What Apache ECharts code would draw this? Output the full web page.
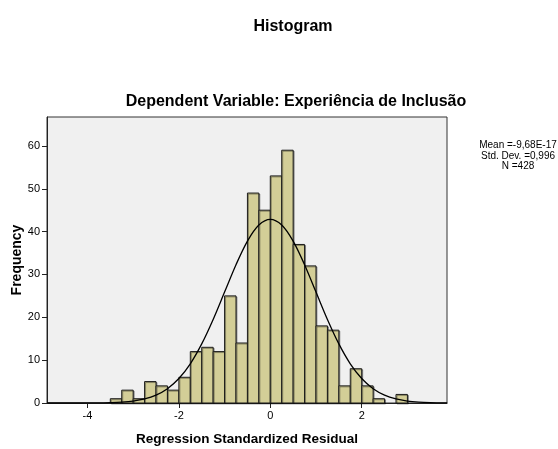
<!DOCTYPE html>
<html>
<head>
<meta charset="utf-8">
<script src="https://cdn.jsdelivr.net/npm/echarts@6/dist/echarts.min.js"></script>
<style>
  html, body { margin: 0; padding: 0; background: #fff; }
  #chart { width: 558px; height: 449px; }
</style>
</head>
<body>
<div id="chart"></div>
<script>
// bins are 0.25 wide, given by their left edge
var binStart = [-3.5, -3.25, -3, -2.75, -2.5, -2.25, -2, -1.75, -1.5, -1.25,
                -1, -0.75, -0.5, -0.25, 0, 0.25, 0.5, 0.75, 1, 1.25,
                1.5, 1.75, 2, 2.25, 2.5, 2.75];
var counts = [1, 3, 1, 5, 4, 3, 6, 12, 13, 12,
              25, 14, 49, 45, 53, 59, 37, 32, 18, 17,
              4, 8, 4, 1, 0, 2];
var binWidth = 0.25;

// normal curve
var curveX = [-4.88, -4.5, -4.25, -4, -3.75, -3.5, -3.25, -3, -2.75, -2.5, -2.25, -2,
              -1.75, -1.5, -1.25, -1, -0.75, -0.5, -0.25, 0, 0.25, 0.5, 0.75, 1,
              1.25, 1.5, 1.75, 2, 2.25, 2.5, 2.75, 3, 3.25, 3.5, 3.75, 3.87];
var curveY = [0, 0, 0, 0.01, 0.04, 0.09, 0.21, 0.46, 0.95, 1.84, 3.34, 5.71,
              9.15, 13.79, 19.5, 25.89, 32.28, 37.78, 41.53, 42.86, 41.53, 37.78, 32.28, 25.89,
              19.5, 13.79, 9.15, 5.71, 3.34, 1.84, 0.95, 0.46, 0.21, 0.09, 0.04, 0.03];

var xTicks = [-4, -2, 0, 2];
var yTicks = [0, 10, 20, 30, 40, 50, 60];
var statsText = ['Mean =-9,68E-17', 'Std. Dev. =0,996', 'N =428'];

var font = 'Liberation Sans, Arial, sans-serif';

var chart = echarts.init(document.getElementById('chart'));

var barData = [];
for (var i = 0; i < binStart.length; i++) {
	barData.push([binStart[i], binStart[i] + binWidth, counts[i]]);
}
var lineData = [];
for (var j = 0; j < curveX.length; j++) {
	lineData.push([curveX[j], curveY[j]]);
}

var option = {
	animation : false,
	backgroundColor : '#fff',
	title : [{
		text : 'Histogram',
		left : 288,
		top : 14,
		textAlign : 'center',
		textStyle : { fontFamily : font, fontSize : 16, fontWeight : 'bold', color : '#000' }
	}, {
		text : 'Dependent Variable: Experiência de Inclusão',
		left : 291,
		top : 89,
		textAlign : 'center',
		textStyle : { fontFamily : font, fontSize : 16, fontWeight : 'bold', color : '#000' }
	}, {
		text : statsText.join('\n'),
		left : 513,
		top : 135,
		textAlign : 'center',
		textStyle : { fontFamily : font, fontSize : 10, fontWeight : 'normal', color : '#000', lineHeight : 10.5, align : 'center' }
	}],
	grid : {
		left : 47,
		right : 111,
		top : 117,
		bottom : 46,
		outerBoundsMode : 'none',
		show : true,
		backgroundColor : '#F0F0F0',
		borderColor : '#333',
		borderWidth : 1
	},
	xAxis : {
		type : 'value',
		min : -4.885,
		max : 3.866,
		name : 'Regression Standardized Residual',
		nameLocation : 'middle',
		nameGap : 29,
		nameTextStyle : { fontFamily : font, fontSize : 13.5, fontWeight : 'bold', color : '#000' },
		splitLine : { show : false },
		axisLine : { show : true, onZero : false, lineStyle : { color : '#222', width : 1 } },
		axisTick : { show : true, length : 5, customValues : xTicks, lineStyle : { color : '#222' } },
		axisLabel : { customValues : xTicks, margin : 7, fontFamily : font, fontSize : 11, color : '#000' }
	},
	yAxis : {
		type : 'value',
		min : 0,
		max : 66.75,
		name : 'Frequency',
		nameLocation : 'middle',
		nameGap : 23,
		nameMoveOverlap : false,
		nameRotate : 90,
		nameTextStyle : { fontFamily : font, fontSize : 14, fontWeight : 'bold', color : '#000' },
		splitLine : { show : false },
		axisLine : { show : true, onZero : false, lineStyle : { color : '#222', width : 1 } },
		axisTick : { show : true, length : 5, customValues : yTicks, lineStyle : { color : '#222' } },
		axisLabel : { customValues : yTicks, margin : 7, fontFamily : font, fontSize : 11, color : '#000' }
	},
	series : [{
		type : 'custom',
		data : barData,
		encode : { x : [0, 1], y : 2 },
		renderItem : function(params, api) {
			var p0 = api.coord([api.value(0), api.value(2)]);
			var p1 = api.coord([api.value(1), 0]);
			var h = p1[1] - p0[1];
			if (h <= 0) {
				return null;
			}
			return {
				type : 'rect',
				shape : { x : p0[0], y : p0[1], width : p1[0] - p0[0], height : h },
				style : {
					fill : '#D3CE97',
					stroke : '#1a1a1a',
					lineWidth : 1,
					shadowColor : 'rgba(0,0,0,0.35)',
					shadowOffsetX : 1,
					shadowOffsetY : 1,
					shadowBlur : 0
				}
			};
		},
		z : 2
	}, {
		type : 'line',
		data : lineData,
		smooth : 0.3,
		showSymbol : false,
		lineStyle : { color : '#000', width : 1.3 },
		z : 3
	}]
};

chart.setOption(option);
</script>
</body>
</html>
